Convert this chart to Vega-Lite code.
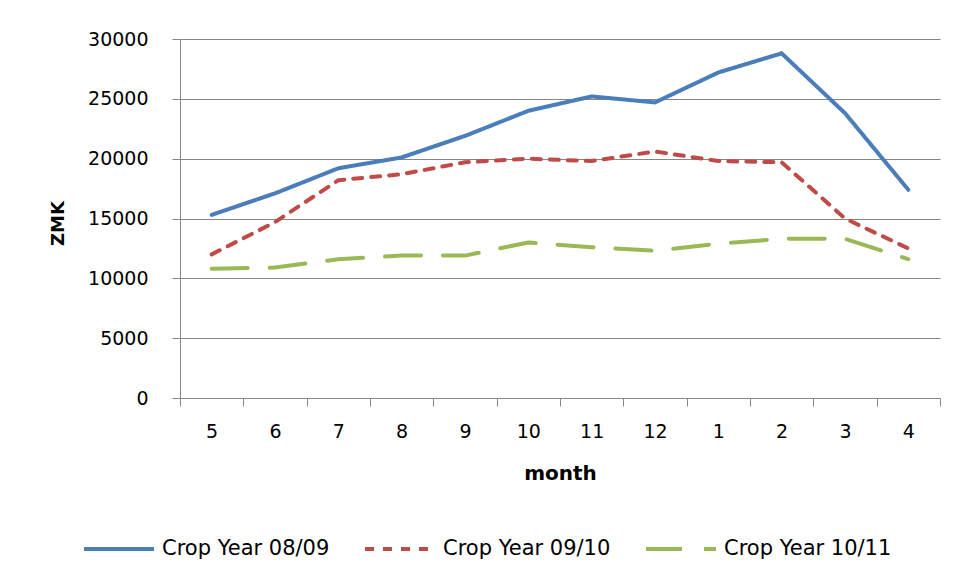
{
  "$schema": "https://vega.github.io/schema/vega-lite/v6.json",
  "width": 760,
  "height": 359,
  "autosize": {"type": "none"},
  "padding": {"left": 180, "top": 39, "right": 18, "bottom": 184},
  "background": "white",
  "data": {
    "values": [
      {"month": "5", "series": "Crop Year 08/09", "zmk": 15300},
      {"month": "6", "series": "Crop Year 08/09", "zmk": 17100},
      {"month": "7", "series": "Crop Year 08/09", "zmk": 19200},
      {"month": "8", "series": "Crop Year 08/09", "zmk": 20100},
      {"month": "9", "series": "Crop Year 08/09", "zmk": 21900},
      {"month": "10", "series": "Crop Year 08/09", "zmk": 24000},
      {"month": "11", "series": "Crop Year 08/09", "zmk": 25200},
      {"month": "12", "series": "Crop Year 08/09", "zmk": 24700},
      {"month": "1", "series": "Crop Year 08/09", "zmk": 27200},
      {"month": "2", "series": "Crop Year 08/09", "zmk": 28800},
      {"month": "3", "series": "Crop Year 08/09", "zmk": 23800},
      {"month": "4", "series": "Crop Year 08/09", "zmk": 17400},
      {"month": "5", "series": "Crop Year 09/10", "zmk": 12000},
      {"month": "6", "series": "Crop Year 09/10", "zmk": 14700},
      {"month": "7", "series": "Crop Year 09/10", "zmk": 18200},
      {"month": "8", "series": "Crop Year 09/10", "zmk": 18700},
      {"month": "9", "series": "Crop Year 09/10", "zmk": 19700},
      {"month": "10", "series": "Crop Year 09/10", "zmk": 20000},
      {"month": "11", "series": "Crop Year 09/10", "zmk": 19800},
      {"month": "12", "series": "Crop Year 09/10", "zmk": 20600},
      {"month": "1", "series": "Crop Year 09/10", "zmk": 19800},
      {"month": "2", "series": "Crop Year 09/10", "zmk": 19700},
      {"month": "3", "series": "Crop Year 09/10", "zmk": 15000},
      {"month": "4", "series": "Crop Year 09/10", "zmk": 12500},
      {"month": "5", "series": "Crop Year 10/11", "zmk": 10800},
      {"month": "6", "series": "Crop Year 10/11", "zmk": 10900},
      {"month": "7", "series": "Crop Year 10/11", "zmk": 11600},
      {"month": "8", "series": "Crop Year 10/11", "zmk": 11900},
      {"month": "9", "series": "Crop Year 10/11", "zmk": 11900},
      {"month": "10", "series": "Crop Year 10/11", "zmk": 13000},
      {"month": "11", "series": "Crop Year 10/11", "zmk": 12600},
      {"month": "12", "series": "Crop Year 10/11", "zmk": 12300},
      {"month": "1", "series": "Crop Year 10/11", "zmk": 12900},
      {"month": "2", "series": "Crop Year 10/11", "zmk": 13300},
      {"month": "3", "series": "Crop Year 10/11", "zmk": 13300},
      {"month": "4", "series": "Crop Year 10/11", "zmk": 11600}
    ]
  },
  "mark": {"type": "line", "strokeWidth": 4, "strokeCap": "round", "strokeJoin": "round"},
  "encoding": {
    "x": {
      "field": "month",
      "type": "ordinal",
      "sort": ["5", "6", "7", "8", "9", "10", "11", "12", "1", "2", "3", "4"],
      "bandPosition": 0.5,
      "scale": {"type": "band", "paddingInner": 0, "paddingOuter": 0},
      "axis": {
        "title": "month",
        "titleFontWeight": "bold",
        "titleFontSize": 20,
        "titleBaseline": "middle",
        "titleY": 75,
        "labelAngle": 0,
        "labelFontSize": 19,
        "labelPadding": 16,
        "tickBand": "extent",
        "tickSize": 8,
        "grid": false
      }
    },
    "y": {
      "field": "zmk",
      "type": "quantitative",
      "scale": {"domain": [0, 30000], "nice": false},
      "axis": {
        "title": "ZMK",
        "titleFontWeight": "bold",
        "titleFontSize": 18,
        "titleBaseline": "middle",
        "titleX": -122,
        "titleY": 184,
        "values": [0, 5000, 10000, 15000, 20000, 25000, 30000],
        "format": "d",
        "labelFontSize": 19,
        "labelPadding": 24,
        "tickSize": 8,
        "grid": true
      }
    },
    "color": {
      "field": "series",
      "type": "nominal",
      "scale": {"range": ["#4A7EBB", "#BE4B48", "#98B954"]},
      "legend": {
        "title": null,
        "orient": "none",
        "direction": "horizontal",
        "legendX": -98,
        "legendY": 473,
        "symbolType": "stroke",
        "symbolSize": 4900,
        "symbolStrokeWidth": 4,
        "labelFontSize": 21,
        "labelLimit": 260,
        "labelOffset": 6,
        "columnPadding": 27
      }
    },
    "strokeDash": {
      "field": "series",
      "type": "nominal",
      "scale": {"range": [[1, 0], [9, 9], [36, 22]]},
      "legend": {
        "title": null,
        "orient": "none",
        "direction": "horizontal",
        "legendX": -98,
        "legendY": 473,
        "symbolType": "stroke",
        "symbolSize": 4900,
        "symbolStrokeWidth": 4,
        "labelFontSize": 21,
        "labelLimit": 260,
        "labelOffset": 6,
        "columnPadding": 27
      }
    }
  },
  "config": {
    "font": "DejaVu Sans",
    "view": {"stroke": null},
    "axis": {
      "labelColor": "#000000",
      "titleColor": "#000000",
      "domainColor": "#868686",
      "tickColor": "#868686",
      "gridColor": "#868686",
      "gridWidth": 1,
      "domainWidth": 1,
      "tickWidth": 1,
      "labelFont": "DejaVu Sans",
      "titleFont": "DejaVu Sans"
    },
    "legend": {"labelColor": "#000000", "labelFont": "DejaVu Sans", "offset": 0}
  }
}
